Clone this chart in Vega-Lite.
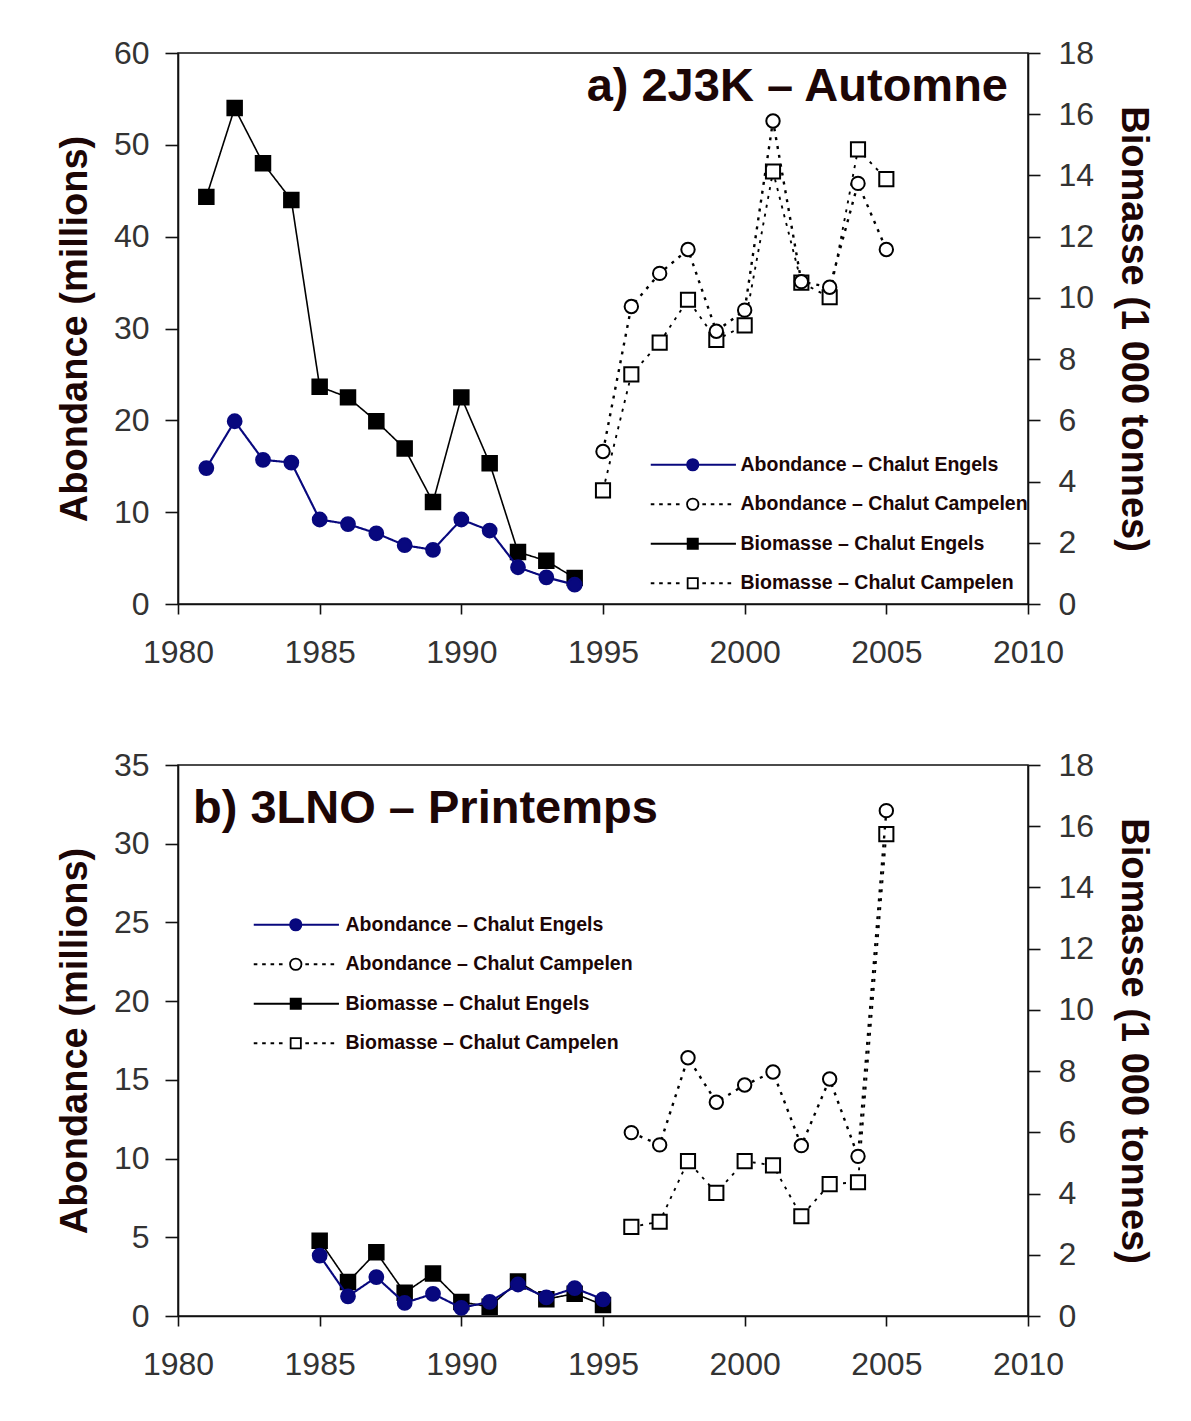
{
  "$schema": "https://vega.github.io/schema/vega-lite/v6.json",
  "background": "white",
  "padding": {"left": 55, "top": 36, "right": 5, "bottom": 5},
  "spacing": 79,
  "config": {
    "font": "Liberation Sans",
    "view": {"stroke": "#111111", "strokeWidth": 1.5},
    "axis": {
      "grid": false,
      "domainColor": "#111111",
      "domainWidth": 1.6,
      "tickColor": "#111111",
      "tickWidth": 1.6,
      "labelFont": "Liberation Sans",
      "labelFontSize": 32,
      "labelColor": "#333333",
      "labelFlush": false,
      "labelOverlap": false,
      "labelBound": false,
      "titleFont": "Liberation Sans",
      "titleFontSize": 38,
      "titleFontWeight": "bold",
      "titleColor": "#1c0606"
    },
    "title": {"font": "Liberation Sans", "fontSize": 47, "fontWeight": "bold", "color": "#1c0606"},
    "legend": {
      "labelFont": "Liberation Sans",
      "labelFontSize": 19.5,
      "labelFontWeight": "bold",
      "labelColor": "#1c0606",
      "labelLimit": 400,
      "symbolSize": 144,
      "symbolStrokeWidth": 1.8,
      "symbolOpacity": 1,
      "labelOffset": 38,
      "rowPadding": 18.5,
      "padding": 0,
      "orient": "none"
    }
  },
  "resolve": {"scale": {"shape": "independent", "fill": "independent", "stroke": "independent", "strokeDash": "independent", "strokeWidth": "independent", "size": "independent"}},
  "datasets": {
    "automne": [
      {"annee": 1981, "serie": "Abondance – Chalut Engels", "valeur": 14.8},
      {"annee": 1982, "serie": "Abondance – Chalut Engels", "valeur": 19.9},
      {"annee": 1983, "serie": "Abondance – Chalut Engels", "valeur": 15.7},
      {"annee": 1984, "serie": "Abondance – Chalut Engels", "valeur": 15.4},
      {"annee": 1985, "serie": "Abondance – Chalut Engels", "valeur": 9.2},
      {"annee": 1986, "serie": "Abondance – Chalut Engels", "valeur": 8.7},
      {"annee": 1987, "serie": "Abondance – Chalut Engels", "valeur": 7.7},
      {"annee": 1988, "serie": "Abondance – Chalut Engels", "valeur": 6.4},
      {"annee": 1989, "serie": "Abondance – Chalut Engels", "valeur": 5.9},
      {"annee": 1990, "serie": "Abondance – Chalut Engels", "valeur": 9.2},
      {"annee": 1991, "serie": "Abondance – Chalut Engels", "valeur": 8.0},
      {"annee": 1992, "serie": "Abondance – Chalut Engels", "valeur": 4.0},
      {"annee": 1993, "serie": "Abondance – Chalut Engels", "valeur": 2.9},
      {"annee": 1994, "serie": "Abondance – Chalut Engels", "valeur": 2.1},
      {"annee": 1995, "serie": "Abondance – Chalut Campelen", "valeur": 16.6},
      {"annee": 1996, "serie": "Abondance – Chalut Campelen", "valeur": 32.4},
      {"annee": 1997, "serie": "Abondance – Chalut Campelen", "valeur": 36.0},
      {"annee": 1998, "serie": "Abondance – Chalut Campelen", "valeur": 38.6},
      {"annee": 1999, "serie": "Abondance – Chalut Campelen", "valeur": 29.7},
      {"annee": 2000, "serie": "Abondance – Chalut Campelen", "valeur": 32.0},
      {"annee": 2001, "serie": "Abondance – Chalut Campelen", "valeur": 52.6},
      {"annee": 2002, "serie": "Abondance – Chalut Campelen", "valeur": 35.1},
      {"annee": 2003, "serie": "Abondance – Chalut Campelen", "valeur": 34.5},
      {"annee": 2004, "serie": "Abondance – Chalut Campelen", "valeur": 45.8},
      {"annee": 2005, "serie": "Abondance – Chalut Campelen", "valeur": 38.6},
      {"annee": 1981, "serie": "Biomasse – Chalut Engels", "valeur": 13.3},
      {"annee": 1982, "serie": "Biomasse – Chalut Engels", "valeur": 16.2},
      {"annee": 1983, "serie": "Biomasse – Chalut Engels", "valeur": 14.4},
      {"annee": 1984, "serie": "Biomasse – Chalut Engels", "valeur": 13.2},
      {"annee": 1985, "serie": "Biomasse – Chalut Engels", "valeur": 7.1},
      {"annee": 1986, "serie": "Biomasse – Chalut Engels", "valeur": 6.75},
      {"annee": 1987, "serie": "Biomasse – Chalut Engels", "valeur": 5.97},
      {"annee": 1988, "serie": "Biomasse – Chalut Engels", "valeur": 5.08},
      {"annee": 1989, "serie": "Biomasse – Chalut Engels", "valeur": 3.33},
      {"annee": 1990, "serie": "Biomasse – Chalut Engels", "valeur": 6.75},
      {"annee": 1991, "serie": "Biomasse – Chalut Engels", "valeur": 4.6},
      {"annee": 1992, "serie": "Biomasse – Chalut Engels", "valeur": 1.7},
      {"annee": 1993, "serie": "Biomasse – Chalut Engels", "valeur": 1.41},
      {"annee": 1994, "serie": "Biomasse – Chalut Engels", "valeur": 0.85},
      {"annee": 1995, "serie": "Biomasse – Chalut Campelen", "valeur": 3.71},
      {"annee": 1996, "serie": "Biomasse – Chalut Campelen", "valeur": 7.5},
      {"annee": 1997, "serie": "Biomasse – Chalut Campelen", "valeur": 8.54},
      {"annee": 1998, "serie": "Biomasse – Chalut Campelen", "valeur": 9.94},
      {"annee": 1999, "serie": "Biomasse – Chalut Campelen", "valeur": 8.63},
      {"annee": 2000, "serie": "Biomasse – Chalut Campelen", "valeur": 9.1},
      {"annee": 2001, "serie": "Biomasse – Chalut Campelen", "valeur": 14.13},
      {"annee": 2002, "serie": "Biomasse – Chalut Campelen", "valeur": 10.5},
      {"annee": 2003, "serie": "Biomasse – Chalut Campelen", "valeur": 10.02},
      {"annee": 2004, "serie": "Biomasse – Chalut Campelen", "valeur": 14.85},
      {"annee": 2005, "serie": "Biomasse – Chalut Campelen", "valeur": 13.88}
    ],
    "printemps": [
      {"annee": 1985, "serie": "Abondance – Chalut Engels", "valeur": 3.84},
      {"annee": 1986, "serie": "Abondance – Chalut Engels", "valeur": 1.25},
      {"annee": 1987, "serie": "Abondance – Chalut Engels", "valeur": 2.47},
      {"annee": 1988, "serie": "Abondance – Chalut Engels", "valeur": 0.83},
      {"annee": 1989, "serie": "Abondance – Chalut Engels", "valeur": 1.41},
      {"annee": 1990, "serie": "Abondance – Chalut Engels", "valeur": 0.52},
      {"annee": 1991, "serie": "Abondance – Chalut Engels", "valeur": 0.9},
      {"annee": 1992, "serie": "Abondance – Chalut Engels", "valeur": 2.0},
      {"annee": 1993, "serie": "Abondance – Chalut Engels", "valeur": 1.18},
      {"annee": 1994, "serie": "Abondance – Chalut Engels", "valeur": 1.77},
      {"annee": 1995, "serie": "Abondance – Chalut Engels", "valeur": 1.06},
      {"annee": 1996, "serie": "Abondance – Chalut Campelen", "valeur": 11.65},
      {"annee": 1997, "serie": "Abondance – Chalut Campelen", "valeur": 10.87},
      {"annee": 1998, "serie": "Abondance – Chalut Campelen", "valeur": 16.4},
      {"annee": 1999, "serie": "Abondance – Chalut Campelen", "valeur": 13.58},
      {"annee": 2000, "serie": "Abondance – Chalut Campelen", "valeur": 14.67},
      {"annee": 2001, "serie": "Abondance – Chalut Campelen", "valeur": 15.5},
      {"annee": 2002, "serie": "Abondance – Chalut Campelen", "valeur": 10.82},
      {"annee": 2003, "serie": "Abondance – Chalut Campelen", "valeur": 15.05},
      {"annee": 2004, "serie": "Abondance – Chalut Campelen", "valeur": 10.14},
      {"annee": 2005, "serie": "Abondance – Chalut Campelen", "valeur": 32.1},
      {"annee": 1985, "serie": "Biomasse – Chalut Engels", "valeur": 2.46},
      {"annee": 1986, "serie": "Biomasse – Chalut Engels", "valeur": 1.11},
      {"annee": 1987, "serie": "Biomasse – Chalut Engels", "valeur": 2.08},
      {"annee": 1988, "serie": "Biomasse – Chalut Engels", "valeur": 0.76},
      {"annee": 1989, "serie": "Biomasse – Chalut Engels", "valeur": 1.39},
      {"annee": 1990, "serie": "Biomasse – Chalut Engels", "valeur": 0.46},
      {"annee": 1991, "serie": "Biomasse – Chalut Engels", "valeur": 0.3},
      {"annee": 1992, "serie": "Biomasse – Chalut Engels", "valeur": 1.13},
      {"annee": 1993, "serie": "Biomasse – Chalut Engels", "valeur": 0.55},
      {"annee": 1994, "serie": "Biomasse – Chalut Engels", "valeur": 0.73},
      {"annee": 1995, "serie": "Biomasse – Chalut Engels", "valeur": 0.36},
      {"annee": 1996, "serie": "Biomasse – Chalut Campelen", "valeur": 2.91},
      {"annee": 1997, "serie": "Biomasse – Chalut Campelen", "valeur": 3.08},
      {"annee": 1998, "serie": "Biomasse – Chalut Campelen", "valeur": 5.06},
      {"annee": 1999, "serie": "Biomasse – Chalut Campelen", "valeur": 4.02},
      {"annee": 2000, "serie": "Biomasse – Chalut Campelen", "valeur": 5.06},
      {"annee": 2001, "serie": "Biomasse – Chalut Campelen", "valeur": 4.92},
      {"annee": 2002, "serie": "Biomasse – Chalut Campelen", "valeur": 3.26},
      {"annee": 2003, "serie": "Biomasse – Chalut Campelen", "valeur": 4.31},
      {"annee": 2004, "serie": "Biomasse – Chalut Campelen", "valeur": 4.37},
      {"annee": 2005, "serie": "Biomasse – Chalut Campelen", "valeur": 15.74}
    ]
  },
  "vconcat": [
    {
      "width": 850,
      "height": 551,
      "data": {"name": "automne"},
      "title": {"text": "a) 2J3K – Automne", "anchor": "end", "frame": "group", "orient": "top", "offset": -74, "dx": -20},
      "layer": [
        {
          "transform": [{"filter": {"field": "serie", "oneOf": ["Biomasse – Chalut Engels", "Biomasse – Chalut Campelen"]}}],
          "layer": [
            {
              "mark": {"type": "line"},
              "encoding": {
                "x": {"field": "annee", "type": "quantitative", "scale": {"domain": [1980, 2010], "nice": false, "zero": false}, "axis": {"values": [1980, 1985, 1990, 1995, 2000, 2005, 2010], "format": "d", "title": null, "tickSize": 10, "labelPadding": 23}},
                "y": {"field": "valeur", "type": "quantitative", "scale": {"domain": [0, 18], "nice": false}, "axis": {"orient": "right", "values": [0, 2, 4, 6, 8, 10, 12, 14, 16, 18], "title": "Biomasse (1 000 tonnes)", "tickSize": 12, "labelPadding": 18, "titlePadding": 20}},
                "stroke": {"field": "serie", "type": "nominal", "legend": null, "scale": {"domain": ["Abondance – Chalut Campelen", "Abondance – Chalut Engels", "Biomasse – Chalut Campelen", "Biomasse – Chalut Engels"], "range": ["#000000", "#08087e", "#000000", "#000000"]}},
                "strokeDash": {"field": "serie", "type": "nominal", "legend": null, "scale": {"domain": ["Abondance – Chalut Campelen", "Abondance – Chalut Engels", "Biomasse – Chalut Campelen", "Biomasse – Chalut Engels"], "range": [[3, 6], [1, 0], [3, 6], [1, 0]]}},
                "strokeWidth": {"field": "serie", "type": "nominal", "legend": null, "scale": {"domain": ["Abondance – Chalut Campelen", "Abondance – Chalut Engels", "Biomasse – Chalut Campelen", "Biomasse – Chalut Engels"], "range": [2.4, 1.6, 2.4, 1.8]}}
              }
            },
            {
              "mark": {"type": "point", "shape": "square", "filled": true, "opacity": 1, "strokeWidth": 2},
              "encoding": {
                "x": {"field": "annee", "type": "quantitative"},
                "y": {"field": "valeur", "type": "quantitative"},
                "stroke": {"field": "serie", "type": "nominal", "legend": null},
                "fill": {"field": "serie", "type": "nominal", "legend": null, "scale": {"domain": ["Abondance – Chalut Campelen", "Abondance – Chalut Engels", "Biomasse – Chalut Campelen", "Biomasse – Chalut Engels"], "range": ["#ffffff", "#08087e", "#ffffff", "#000000"]}},
                "size": {"field": "serie", "type": "nominal", "legend": null, "scale": {"domain": ["Abondance – Chalut Campelen", "Abondance – Chalut Engels", "Biomasse – Chalut Campelen", "Biomasse – Chalut Engels"], "range": [180, 210, 130, 190]}}
              }
            }
          ]
        },
        {
          "transform": [{"filter": {"field": "serie", "oneOf": ["Abondance – Chalut Engels", "Abondance – Chalut Campelen"]}}],
          "layer": [
            {
              "mark": {"type": "line"},
              "encoding": {
                "x": {"field": "annee", "type": "quantitative"},
                "y": {"field": "valeur", "type": "quantitative", "scale": {"domain": [0, 60], "nice": false}, "axis": {"orient": "left", "values": [0, 10, 20, 30, 40, 50, 60], "title": "Abondance (millions)", "tickSize": 13, "labelPadding": 16, "titlePadding": 19}},
                "stroke": {"field": "serie", "type": "nominal", "legend": null, "scale": {"domain": ["Abondance – Chalut Campelen", "Abondance – Chalut Engels", "Biomasse – Chalut Campelen", "Biomasse – Chalut Engels"], "range": ["#000000", "#08087e", "#000000", "#000000"]}},
                "strokeDash": {"field": "serie", "type": "nominal", "legend": null},
                "strokeWidth": {"field": "serie", "type": "nominal", "legend": null}
              }
            },
            {
              "mark": {"type": "point", "shape": "circle", "filled": true, "opacity": 1, "strokeWidth": 2},
              "encoding": {
                "x": {"field": "annee", "type": "quantitative"},
                "y": {"field": "valeur", "type": "quantitative"},
                "stroke": {"field": "serie", "type": "nominal", "legend": null},
                "fill": {"field": "serie", "type": "nominal", "legend": null, "scale": {"domain": ["Abondance – Chalut Campelen", "Abondance – Chalut Engels", "Biomasse – Chalut Campelen", "Biomasse – Chalut Engels"], "range": ["#ffffff", "#08087e", "#ffffff", "#000000"]}},
                "size": {"field": "serie", "type": "nominal", "legend": null}
              }
            }
          ]
        },
        {
          "mark": {"type": "point", "opacity": 0, "filled": true},
          "encoding": {
            "shape": {
              "field": "serie", "type": "nominal",
              "scale": {
                "domain": ["Abondance – Chalut Engels", "Abondance – Chalut Campelen", "Biomasse – Chalut Engels", "Biomasse – Chalut Campelen"],
                "range": [
                  "M-7,0H7.2M0.95,0A0.95,0.95,0,1,1,-0.95,0A0.95,0.95,0,1,1,0.95,0Z",
                  "M-7,0H-6.4M-5.6,0H-5M-4.2,0H-3.6M-2.8,0H-2.2M1.6,0H2.2M3,0H3.6M4.4,0H5M5.8,0H6.4M0.95,0A0.95,0.95,0,1,1,-0.95,0A0.95,0.95,0,1,1,0.95,0Z",
                  "M-7,0H7.2M-0.85,-0.85H0.85V0.85H-0.85Z",
                  "M-7,0H-6.4M-5.6,0H-5M-4.2,0H-3.6M-2.8,0H-2.2M1.6,0H2.2M3,0H3.6M4.4,0H5M5.8,0H6.4M-0.85,-0.85H0.85V0.85H-0.85Z"
                ]
              },
              "legend": {"title": null, "legendX": 505, "legendY": 402}
            },
            "fill": {
              "field": "serie", "type": "nominal",
              "scale": {"domain": ["Abondance – Chalut Engels", "Abondance – Chalut Campelen", "Biomasse – Chalut Engels", "Biomasse – Chalut Campelen"], "range": ["#08087e", "#ffffff", "#000000", "#ffffff"]},
              "legend": {"title": null, "legendX": 505, "legendY": 402}
            },
            "stroke": {
              "field": "serie", "type": "nominal",
              "scale": {"domain": ["Abondance – Chalut Engels", "Abondance – Chalut Campelen", "Biomasse – Chalut Engels", "Biomasse – Chalut Campelen"], "range": ["#08087e", "#000000", "#000000", "#000000"]},
              "legend": {"title": null, "legendX": 505, "legendY": 402}
            }
          }
        }
      ],
      "resolve": {"scale": {"y": "independent", "shape": "independent", "fill": "independent", "stroke": "independent"}, "axis": {"y": "independent"}}
    },
    {
      "width": 850,
      "height": 551,
      "data": {"name": "printemps"},
      "title": {"text": "b) 3LNO – Printemps", "anchor": "start", "frame": "group", "orient": "top", "offset": -84, "dx": 15},
      "layer": [
        {
          "transform": [{"filter": {"field": "serie", "oneOf": ["Biomasse – Chalut Engels", "Biomasse – Chalut Campelen"]}}],
          "layer": [
            {
              "mark": {"type": "line"},
              "encoding": {
                "x": {"field": "annee", "type": "quantitative", "scale": {"domain": [1980, 2010], "nice": false, "zero": false}, "axis": {"values": [1980, 1985, 1990, 1995, 2000, 2005, 2010], "format": "d", "title": null, "tickSize": 10, "labelPadding": 23}},
                "y": {"field": "valeur", "type": "quantitative", "scale": {"domain": [0, 18], "nice": false}, "axis": {"orient": "right", "values": [0, 2, 4, 6, 8, 10, 12, 14, 16, 18], "title": "Biomasse (1 000 tonnes)", "tickSize": 12, "labelPadding": 18, "titlePadding": 20}},
                "stroke": {"field": "serie", "type": "nominal", "legend": null, "scale": {"domain": ["Abondance – Chalut Campelen", "Abondance – Chalut Engels", "Biomasse – Chalut Campelen", "Biomasse – Chalut Engels"], "range": ["#000000", "#08087e", "#000000", "#000000"]}},
                "strokeDash": {"field": "serie", "type": "nominal", "legend": null, "scale": {"domain": ["Abondance – Chalut Campelen", "Abondance – Chalut Engels", "Biomasse – Chalut Campelen", "Biomasse – Chalut Engels"], "range": [[3, 6], [1, 0], [3, 6], [1, 0]]}},
                "strokeWidth": {"field": "serie", "type": "nominal", "legend": null, "scale": {"domain": ["Abondance – Chalut Campelen", "Abondance – Chalut Engels", "Biomasse – Chalut Campelen", "Biomasse – Chalut Engels"], "range": [2.4, 1.6, 2.4, 1.8]}}
              }
            },
            {
              "mark": {"type": "point", "shape": "square", "filled": true, "opacity": 1, "strokeWidth": 2},
              "encoding": {
                "x": {"field": "annee", "type": "quantitative"},
                "y": {"field": "valeur", "type": "quantitative"},
                "stroke": {"field": "serie", "type": "nominal", "legend": null},
                "fill": {"field": "serie", "type": "nominal", "legend": null, "scale": {"domain": ["Abondance – Chalut Campelen", "Abondance – Chalut Engels", "Biomasse – Chalut Campelen", "Biomasse – Chalut Engels"], "range": ["#ffffff", "#08087e", "#ffffff", "#000000"]}},
                "size": {"field": "serie", "type": "nominal", "legend": null, "scale": {"domain": ["Abondance – Chalut Campelen", "Abondance – Chalut Engels", "Biomasse – Chalut Campelen", "Biomasse – Chalut Engels"], "range": [180, 210, 130, 190]}}
              }
            }
          ]
        },
        {
          "transform": [{"filter": {"field": "serie", "oneOf": ["Abondance – Chalut Engels", "Abondance – Chalut Campelen"]}}],
          "layer": [
            {
              "mark": {"type": "line"},
              "encoding": {
                "x": {"field": "annee", "type": "quantitative"},
                "y": {"field": "valeur", "type": "quantitative", "scale": {"domain": [0, 35], "nice": false}, "axis": {"orient": "left", "values": [0, 5, 10, 15, 20, 25, 30, 35], "title": "Abondance (millions)", "tickSize": 13, "labelPadding": 16, "titlePadding": 19}},
                "stroke": {"field": "serie", "type": "nominal", "legend": null, "scale": {"domain": ["Abondance – Chalut Campelen", "Abondance – Chalut Engels", "Biomasse – Chalut Campelen", "Biomasse – Chalut Engels"], "range": ["#000000", "#08087e", "#000000", "#000000"]}},
                "strokeDash": {"field": "serie", "type": "nominal", "legend": null},
                "strokeWidth": {"field": "serie", "type": "nominal", "legend": null}
              }
            },
            {
              "mark": {"type": "point", "shape": "circle", "filled": true, "opacity": 1, "strokeWidth": 2},
              "encoding": {
                "x": {"field": "annee", "type": "quantitative"},
                "y": {"field": "valeur", "type": "quantitative"},
                "stroke": {"field": "serie", "type": "nominal", "legend": null},
                "fill": {"field": "serie", "type": "nominal", "legend": null, "scale": {"domain": ["Abondance – Chalut Campelen", "Abondance – Chalut Engels", "Biomasse – Chalut Campelen", "Biomasse – Chalut Engels"], "range": ["#ffffff", "#08087e", "#ffffff", "#000000"]}},
                "size": {"field": "serie", "type": "nominal", "legend": null}
              }
            }
          ]
        },
        {
          "mark": {"type": "point", "opacity": 0, "filled": true},
          "encoding": {
            "shape": {
              "field": "serie", "type": "nominal",
              "scale": {
                "domain": ["Abondance – Chalut Engels", "Abondance – Chalut Campelen", "Biomasse – Chalut Engels", "Biomasse – Chalut Campelen"],
                "range": [
                  "M-7,0H7.2M0.95,0A0.95,0.95,0,1,1,-0.95,0A0.95,0.95,0,1,1,0.95,0Z",
                  "M-7,0H-6.4M-5.6,0H-5M-4.2,0H-3.6M-2.8,0H-2.2M1.6,0H2.2M3,0H3.6M4.4,0H5M5.8,0H6.4M0.95,0A0.95,0.95,0,1,1,-0.95,0A0.95,0.95,0,1,1,0.95,0Z",
                  "M-7,0H7.2M-0.85,-0.85H0.85V0.85H-0.85Z",
                  "M-7,0H-6.4M-5.6,0H-5M-4.2,0H-3.6M-2.8,0H-2.2M1.6,0H2.2M3,0H3.6M4.4,0H5M5.8,0H6.4M-0.85,-0.85H0.85V0.85H-0.85Z"
                ]
              },
              "legend": {"title": null, "legendX": 108, "legendY": 150, "labelOffset": 40}
            },
            "fill": {
              "field": "serie", "type": "nominal",
              "scale": {"domain": ["Abondance – Chalut Engels", "Abondance – Chalut Campelen", "Biomasse – Chalut Engels", "Biomasse – Chalut Campelen"], "range": ["#08087e", "#ffffff", "#000000", "#ffffff"]},
              "legend": {"title": null, "legendX": 108, "legendY": 150, "labelOffset": 40}
            },
            "stroke": {
              "field": "serie", "type": "nominal",
              "scale": {"domain": ["Abondance – Chalut Engels", "Abondance – Chalut Campelen", "Biomasse – Chalut Engels", "Biomasse – Chalut Campelen"], "range": ["#08087e", "#000000", "#000000", "#000000"]},
              "legend": {"title": null, "legendX": 108, "legendY": 150, "labelOffset": 40}
            }
          }
        }
      ],
      "resolve": {"scale": {"y": "independent", "shape": "independent", "fill": "independent", "stroke": "independent"}, "axis": {"y": "independent"}}
    }
  ]
}
